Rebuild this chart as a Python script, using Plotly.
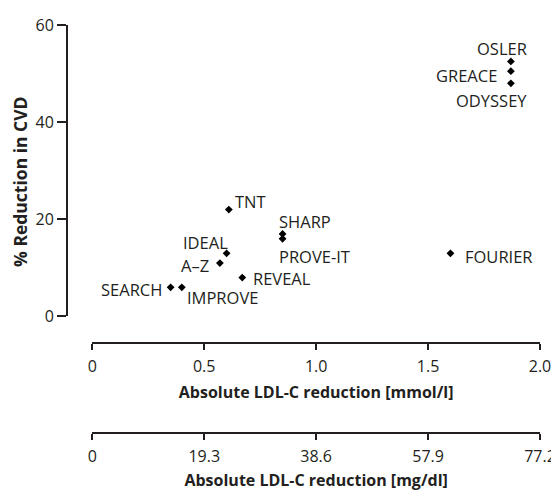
import plotly.graph_objects as go

# ---- data ----
trials = ["OSLER", "GREACE", "ODYSSEY", "TNT", "SHARP", "PROVE-IT", "IDEAL",
          "A\u2013Z", "REVEAL", "SEARCH", "IMPROVE", "FOURIER"]
ldl_mmol = [1.87, 1.87, 1.87, 0.61, 0.85, 0.85, 0.60, 0.57, 0.67, 0.35, 0.40, 1.60]
cvd_reduction = [52.5, 50.5, 48, 22, 17, 16, 13, 11, 8, 6, 6, 13]

MGDL_PER_MMOL = 38.6
ldl_mgdl = [v * MGDL_PER_MMOL for v in ldl_mmol]

x_tickvals = [0, 0.5, 1.0, 1.5, 2.0]
x_ticktext = ["0", "0.5", "1.0", "1.5", "2.0"]
x2_tickvals = [0, 19.3, 38.6, 57.9, 77.2]
x2_ticktext = ["0", "19.3", "38.6", "57.9", "77.2"]
y_tickvals = [0, 20, 40, 60]

# ---- label placement (style only) ----
label_pos = {
    "OSLER":    ("right", 17, 13),
    "GREACE":   ("right", -13, -4),
    "ODYSSEY":  ("right", 17, -17),
    "TNT":      ("left", 5, 8),
    "SHARP":    ("left", -5, 12),
    "PROVE-IT": ("left", -5, -18),
    "IDEAL":    ("right", 2, 11),
    "A\u2013Z": ("right", -10, -2),
    "REVEAL":   ("left", 10, -1),
    "SEARCH":   ("right", -8, -2),
    "IMPROVE":  ("left", 4, -10),
    "FOURIER":  ("left", 14, -3),
}

FONT = "Open Sans"
INK = "#231f20"

# page body has an 8px margin -> target coordinates minus 8
OFF = 8
W, H = 559, 492
left_px, right_px = 67 - OFF, 540.3 - OFF
top_px, bottom_px = 25 - OFF, 433.3 - OFF
ml, mr, mt, mb = left_px, W - right_px, top_px, H - bottom_px
paper_w = right_px - left_px
paper_h = bottom_px - top_px
x_dom0 = (92.3 - 67) / paper_w
y_dom0 = (433.3 - 316.7) / paper_h
x_pos1 = (433.3 - 343.3) / paper_h

fig = go.Figure()
fig.add_trace(go.Scatter(
    x=ldl_mmol, y=cvd_reduction, mode="markers",
    marker=dict(symbol="diamond", size=6, color="black"),
    xaxis="x", yaxis="y", cliponaxis=False, showlegend=False,
    hoverinfo="text", text=trials,
))
fig.add_trace(go.Scatter(
    x=ldl_mgdl, y=cvd_reduction, mode="markers",
    marker=dict(size=1, opacity=0),
    xaxis="x2", yaxis="y", showlegend=False, hoverinfo="skip",
))

for name, xv, yv in zip(trials, ldl_mmol, cvd_reduction):
    anchor, dx, dy = label_pos[name]
    fig.add_annotation(
        x=xv, y=yv, xref="x", yref="y", text=name, showarrow=False,
        xanchor=anchor, yanchor="middle", xshift=dx, yshift=dy,
        font=dict(family=FONT, size=16.5, color=INK), borderpad=0,
    )

# y-axis title
fig.add_annotation(
    x=(20 - 67) / paper_w, y=(433.3 - 182) / paper_h, xref="paper", yref="paper",
    text="<b>% Reduction in CVD</b>", textangle=-90, showarrow=False,
    xanchor="center", yanchor="middle",
    font=dict(family=FONT, size=17.5, color=INK),
)

axis_common = dict(
    showline=True, linewidth=2, linecolor=INK, ticks="outside",
    tickwidth=2, tickcolor=INK, showgrid=False, zeroline=False,
    tickfont=dict(family=FONT, size=16, color=INK), automargin=False,
)

fig.update_layout(
    width=W, height=H,
    margin=dict(l=ml, r=mr, t=mt, b=mb, pad=0, autoexpand=False),
    paper_bgcolor="white", plot_bgcolor="white",
    font=dict(family=FONT, size=16, color=INK),
    xaxis=dict(
        domain=[x_dom0, 1], range=[0, 2], anchor="free", position=x_pos1,
        tickmode="array", tickvals=x_tickvals, ticktext=x_ticktext, ticklen=6,
        ticklabelstandoff=3,
        title=dict(text="<b>Absolute LDL-C reduction [mmol/l]</b>",
                   font=dict(family=FONT, size=16, color=INK), standoff=10),
        **axis_common,
    ),
    xaxis2=dict(
        domain=[x_dom0, 1], range=[0, 77.2], overlaying="x", anchor="free",
        position=0, side="bottom",
        tickmode="array", tickvals=x2_tickvals, ticktext=x2_ticktext, ticklen=6,
        ticklabelstandoff=3,
        title=dict(text="<b>Absolute LDL-C reduction [mg/dl]</b>",
                   font=dict(family=FONT, size=16, color=INK), standoff=8),
        **axis_common,
    ),
    yaxis=dict(
        domain=[y_dom0, 1], range=[0, 60], anchor="free", position=0,
        tickmode="array", tickvals=y_tickvals, ticklen=9,
        **axis_common,
    ),
)

fig.write_html("out.html")
